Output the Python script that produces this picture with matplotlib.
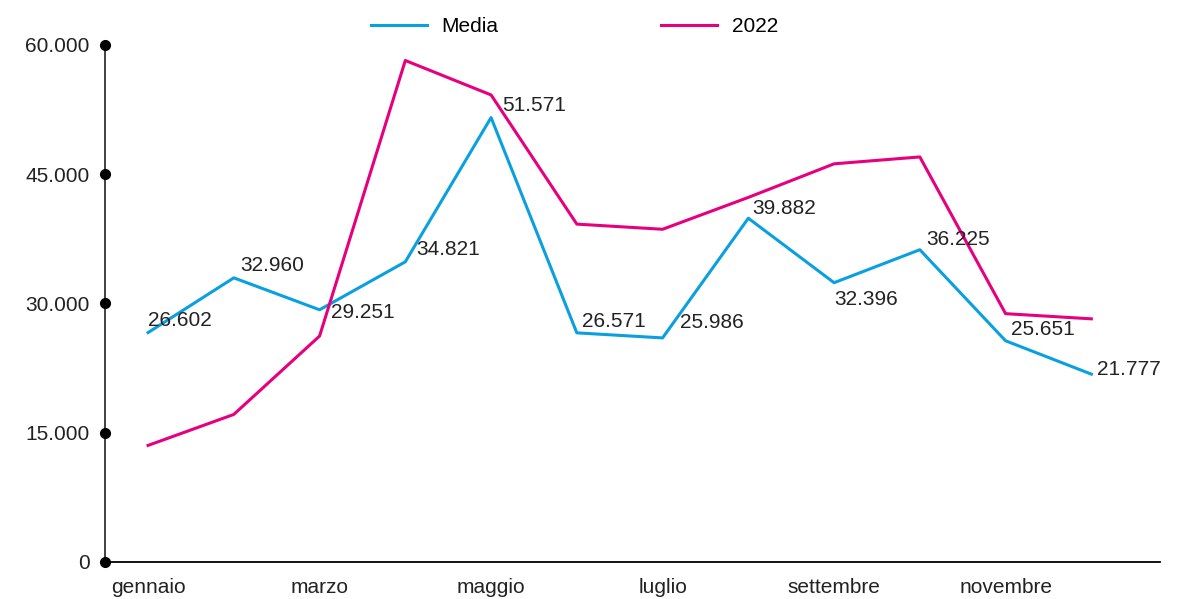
import matplotlib.pyplot as plt
from matplotlib.ticker import FuncFormatter
import matplotlib.transforms as mtransforms

# ------------------------------------------------------
# Monthly values
# ------------------------------------------------------
months = ["gennaio", "febbraio", "marzo", "aprile", "maggio", "giugno",
          "luglio", "agosto", "settembre", "ottobre", "novembre", "dicembre"]
media = [26602, 32960, 29251, 34821, 51571, 26571,
         25986, 39882, 32396, 36225, 25651, 21777]
y2022 = [13500, 17100, 26200, 58200, 54200, 39200,
         38600, 42300, 46200, 47000, 28800, 28200]
yticks = [0, 15000, 30000, 45000, 60000]

BLUE = "#0aa0e0"
MAGENTA = "#e6007e"

# label offsets (pixels) for the Media values
label_offsets = [(0, 3), (6, 3), (11, -12), (11, 3), (11, 3), (5, 2),
                 (17, 6), (4, 0), (0, -26), (6, 1), (5, 2), (6, -5)]


def fmt_it(v):
    return f"{int(v):,}".replace(",", ".")


plt.rcParams['font.family'] = ['Liberation Sans', 'DejaVu Sans']
plt.rcParams['font.size'] = 15

fig = plt.figure(figsize=(11.87, 5.99), dpi=100)
ax = fig.add_axes([0.0885, 0.0623, 0.9772 - 0.0885, 0.9249 - 0.0623])

x = list(range(len(months)))
ax.plot(x, media, color=BLUE, lw=2.2, label="Media")
ax.plot(x, y2022, color=MAGENTA, lw=2.2, label="2022")

for i, v in enumerate(media):
    ax.annotate(fmt_it(v), (x[i], v), xytext=label_offsets[i],
                textcoords='offset pixels', ha='left', va='bottom',
                fontsize=15, color='#222222')

ax.set_xlim(-0.5016, 11.80)
ax.set_ylim(0, 60000)

ax.set_xticks(x[::2])
ax.set_xticklabels(months[::2])
ax.set_yticks(yticks)
ax.yaxis.set_major_formatter(FuncFormatter(lambda v, p: fmt_it(v)))
ax.tick_params(axis='both', length=0, labelsize=15, colors='#222222')
ax.tick_params(axis='y', pad=11)
ax.tick_params(axis='x', pad=12)

# dots on the y axis at each tick
trans = mtransforms.blended_transform_factory(ax.transAxes, ax.transData)
ax.plot([0] * len(yticks), yticks, 'o', color='black', ms=7,
        transform=trans, clip_on=False, zorder=5)

for side in ('top', 'right'):
    ax.spines[side].set_visible(False)
ax.spines['left'].set_color('#333333')
ax.spines['bottom'].set_color('black')
ax.spines['left'].set_linewidth(1.3)
ax.spines['bottom'].set_linewidth(1.3)

ax.legend(loc='upper center', bbox_to_anchor=(0.445, 1.09), ncol=2,
          frameon=False, handlelength=2.7, columnspacing=7.8,
          handletextpad=0.7, fontsize=15)

fig.savefig("out.png", dpi=100)
